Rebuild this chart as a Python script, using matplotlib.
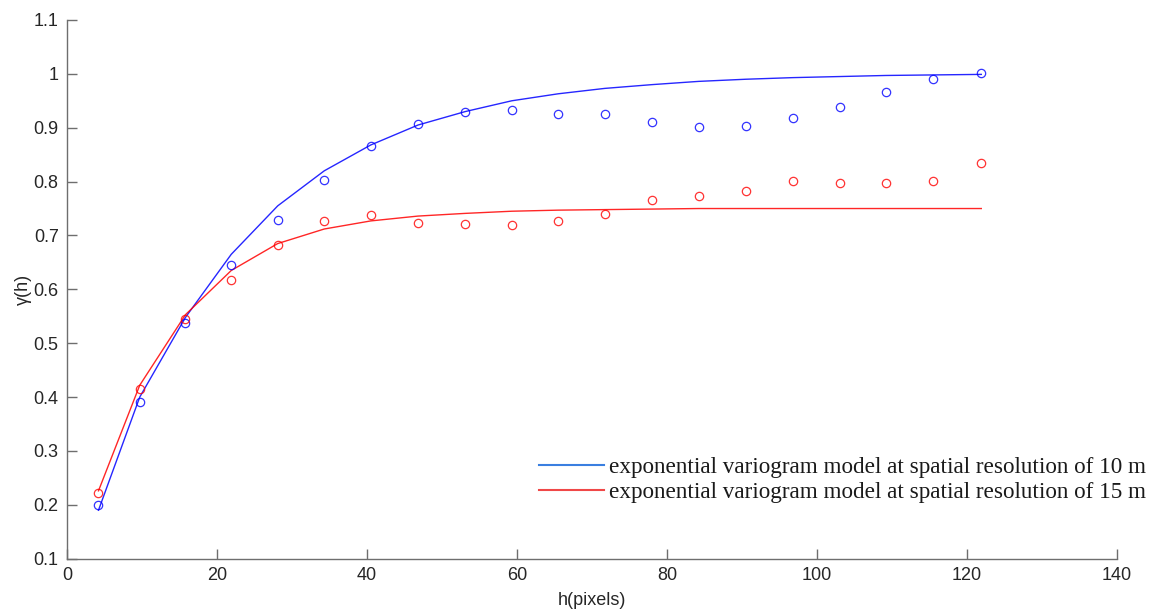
import numpy as np
import matplotlib
matplotlib.use('Agg')
import matplotlib.pyplot as plt

# lag distances (pixels)
lag = [4.2, 9.7, 15.8, 21.9, 28.1, 34.3, 40.5, 46.8, 53.1, 59.3,
       65.5, 71.7, 78.0, 84.2, 90.5, 96.8, 103.0, 109.2, 115.5, 121.9]

# experimental semivariances
gamma_10m = [0.200, 0.391, 0.538, 0.645, 0.728, 0.803, 0.866, 0.906, 0.929, 0.933,
             0.926, 0.925, 0.911, 0.901, 0.903, 0.918, 0.938, 0.967, 0.991, 1.001]
gamma_15m = [0.222, 0.415, 0.545, 0.617, 0.683, 0.726, 0.738, 0.724, 0.722, 0.719,
             0.726, 0.740, 0.766, 0.774, 0.783, 0.802, 0.797, 0.797, 0.802, 0.835]

# fitted exponential models
model_10m = [0.190, 0.400, 0.548, 0.665, 0.755, 0.820, 0.868, 0.905, 0.930, 0.950,
             0.963, 0.973, 0.980, 0.986, 0.990, 0.993, 0.995, 0.997, 0.998, 0.999]
model_15m = [0.226, 0.422, 0.553, 0.635, 0.685, 0.712, 0.727, 0.736, 0.741, 0.745,
             0.747, 0.748, 0.749, 0.750, 0.750, 0.750, 0.750, 0.750, 0.750, 0.750]

labels = ['exponential variogram model at spatial resolution of 10 m',
          'exponential variogram model at spatial resolution of 15 m']

plt.rcParams['font.family'] = ['Liberation Sans', 'DejaVu Sans']

fig = plt.figure(figsize=(11.51, 6.11), dpi=100)
ax = fig.add_axes([0.0582, 0.0856, 0.9123, 0.8817])

blue = '#0000ff'
red = '#ff0000'

ax.plot(lag, model_10m, '-', color=blue, lw=1.0, alpha=0.85)
ax.plot(lag, model_15m, '-', color=red, lw=1.0, alpha=0.85)
ax.plot(lag, gamma_10m, 'o', mfc='none', mec=blue, ms=6, mew=0.9, alpha=0.8)
ax.plot(lag, gamma_15m, 'o', mfc='none', mec=red, ms=6, mew=0.9, alpha=0.8)

ax.set_xlim(0, 140)
ax.set_ylim(0.1, 1.1)
ax.set_xticks(np.arange(0, 141, 20))
ax.set_yticks(np.round(np.arange(0.1, 1.11, 0.1), 1))
ax.set_yticklabels(['0.1', '0.2', '0.3', '0.4', '0.5', '0.6', '0.7', '0.8', '0.9', '1', '1.1'])

for s in ['top', 'right']:
    ax.spines[s].set_visible(False)
for s in ['left', 'bottom']:
    ax.spines[s].set_color('#6e6e6e')
    ax.spines[s].set_linewidth(1.0)
ax.tick_params(direction='in', length=7, width=1.0, color='#6e6e6e',
               labelsize=13, labelcolor='#262626', pad=6)

ax.set_xlabel('h(pixels)', fontsize=13, color='#262626')
ax.set_ylabel('γ(h)', fontsize=13, color='#262626')
ax.xaxis.set_label_coords(0.5, -0.062)
ax.yaxis.set_label_coords(-0.033, 0.5)

# legend drawn with the lighter handle colours of the original
h1, = ax.plot([], [], color='#3a7fe0', lw=1.5)
h2, = ax.plot([], [], color='#f04848', lw=1.5)
leg = fig.legend([h1, h2], labels, loc='center left',
                 bbox_to_anchor=(539 / 1151, 1 - 480 / 611),
                 frameon=False, borderpad=0, borderaxespad=0,
                 handlelength=2.8, handletextpad=0.22, labelspacing=0.15,
                 prop={'family': 'Liberation Serif', 'size': 16.7})
for t in leg.get_texts():
    t.set_color('#1a1a1a')

fig.savefig('out.png', dpi=100)
